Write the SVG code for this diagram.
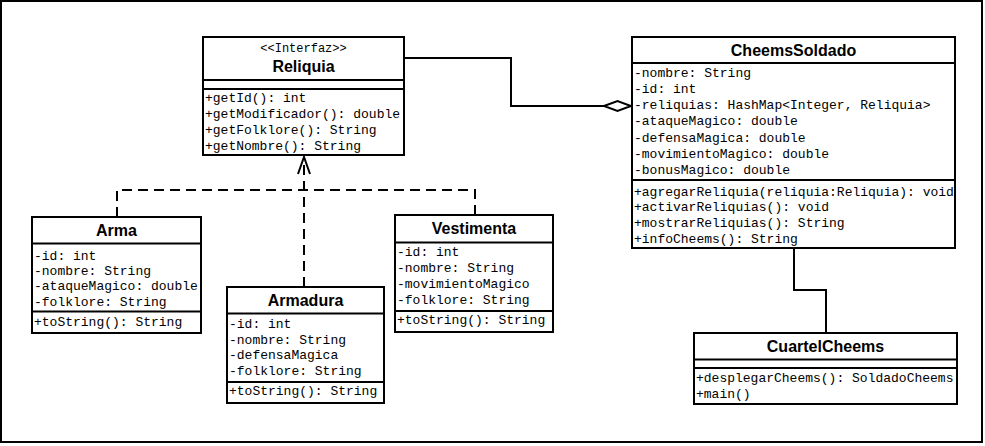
<svg xmlns="http://www.w3.org/2000/svg" width="985" height="446" viewBox="0 0 985 446">
<style>
.box{fill:#fff;stroke:#000;stroke-width:2}
.div{stroke:#000;stroke-width:2}
.t{font-family:"Liberation Mono","Courier New",monospace;font-size:13px;fill:#000}
.st{font-family:"Liberation Mono","Courier New",monospace;font-size:12px;fill:#000;text-anchor:middle}
.n{font-family:"Liberation Sans",Arial,sans-serif;font-size:16px;font-weight:bold;fill:#000;text-anchor:middle}
.ln{fill:none;stroke:#000;stroke-width:2}
.dash{fill:none;stroke:#000;stroke-width:2;stroke-dasharray:10,6}
</style>
<rect x="1" y="1" width="981" height="441" fill="#fff" stroke="#000" stroke-width="2"/>
<g id="connectors">
<polyline class="ln" points="404,58 511,58 511,106 604,106"/>
<polygon points="604,106 617.5,101 631,106 617.5,111" fill="#fff" stroke="#000" stroke-width="2"/>
<polyline class="dash" points="117,217 117,190 475,190 475,215"/>
<line class="dash" x1="304" y1="287" x2="304" y2="160"/>
<polyline class="ln" points="298,174 304,157 310,174"/>
<polyline class="ln" points="794,248 794,290 826,290 826,333"/>
</g>
<g id="Reliquia">
<rect class="box" x="203" y="37" width="201" height="118"/>
<line class="div" x1="203" y1="80" x2="404" y2="80"/>
<line class="div" x1="203" y1="89" x2="404" y2="89"/>
<text class="st" x="303.5" y="52">&lt;&lt;Interfaz&gt;&gt;</text>
<text class="n" x="303.5" y="72">Reliquia</text>
<text class="t" x="205" y="102">+getId(): int</text>
<text class="t" x="205" y="118">+getModificador(): double</text>
<text class="t" x="205" y="134">+getFolklore(): String</text>
<text class="t" x="205" y="150">+getNombre(): String</text>
</g>
<g id="CheemsSoldado">
<rect class="box" x="632" y="37" width="323" height="211"/>
<line class="div" x1="632" y1="63" x2="955" y2="63"/>
<line class="div" x1="632" y1="180" x2="955" y2="180"/>
<text class="n" x="793.5" y="56">CheemsSoldado</text>
<text class="t" x="634" y="76.5">-nombre: String</text>
<text class="t" x="634" y="92.5">-id: int</text>
<text class="t" x="634" y="109">-reliquias: HashMap&lt;Integer, Reliquia&gt;</text>
<text class="t" x="634" y="125">-ataqueMagico: double</text>
<text class="t" x="634" y="141.5">-defensaMagica: double</text>
<text class="t" x="634" y="157.5">-movimientoMagico: double</text>
<text class="t" x="634" y="174">-bonusMagico: double</text>
<text class="t" x="634" y="195.5">+agregarReliquia(reliquia:Reliquia): void</text>
<text class="t" x="634" y="211">+activarReliquias(): void</text>
<text class="t" x="634" y="227">+mostrarReliquias(): String</text>
<text class="t" x="634" y="242.5">+infoCheems(): String</text>
</g>
<g id="Arma">
<rect class="box" x="32" y="217" width="169" height="116"/>
<line class="div" x1="32" y1="243.5" x2="201" y2="243.5"/>
<line class="div" x1="32" y1="311.5" x2="201" y2="311.5"/>
<text class="n" x="116.5" y="236">Arma</text>
<text class="t" x="34" y="259.5">-id: int</text>
<text class="t" x="34" y="274.5">-nombre: String</text>
<text class="t" x="34" y="290">-ataqueMagico: double</text>
<text class="t" x="34" y="305.5">-folklore: String</text>
<text class="t" x="34" y="326">+toString(): String</text>
</g>
<g id="Armadura">
<rect class="box" x="227" y="287" width="157" height="116"/>
<line class="div" x1="227" y1="313.5" x2="384" y2="313.5"/>
<line class="div" x1="227" y1="382" x2="384" y2="382"/>
<text class="n" x="305.5" y="306">Armadura</text>
<text class="t" x="229" y="328">-id: int</text>
<text class="t" x="229" y="344">-nombre: String</text>
<text class="t" x="229" y="359">-defensaMagica</text>
<text class="t" x="229" y="374.5">-folklore: String</text>
<text class="t" x="229" y="395">+toString(): String</text>
</g>
<g id="Vestimenta">
<rect class="box" x="395" y="215" width="158" height="117"/>
<line class="div" x1="395" y1="242.5" x2="553" y2="242.5"/>
<line class="div" x1="395" y1="311" x2="553" y2="311"/>
<text class="n" x="474" y="234">Vestimenta</text>
<text class="t" x="397" y="255.5">-id: int</text>
<text class="t" x="397" y="271.5">-nombre: String</text>
<text class="t" x="397" y="287.5">-movimientoMagico</text>
<text class="t" x="397" y="304">-folklore: String</text>
<text class="t" x="397" y="324">+toString(): String</text>
</g>
<g id="CuartelCheems">
<rect class="box" x="694" y="333" width="263" height="71"/>
<line class="div" x1="694" y1="359.5" x2="957" y2="359.5"/>
<line class="div" x1="694" y1="368" x2="957" y2="368"/>
<text class="n" x="825.5" y="352">CuartelCheems</text>
<text class="t" x="696" y="381.5">+desplegarCheems(): SoldadoCheems</text>
<text class="t" x="696" y="397.5">+main()</text>
</g>
</svg>
